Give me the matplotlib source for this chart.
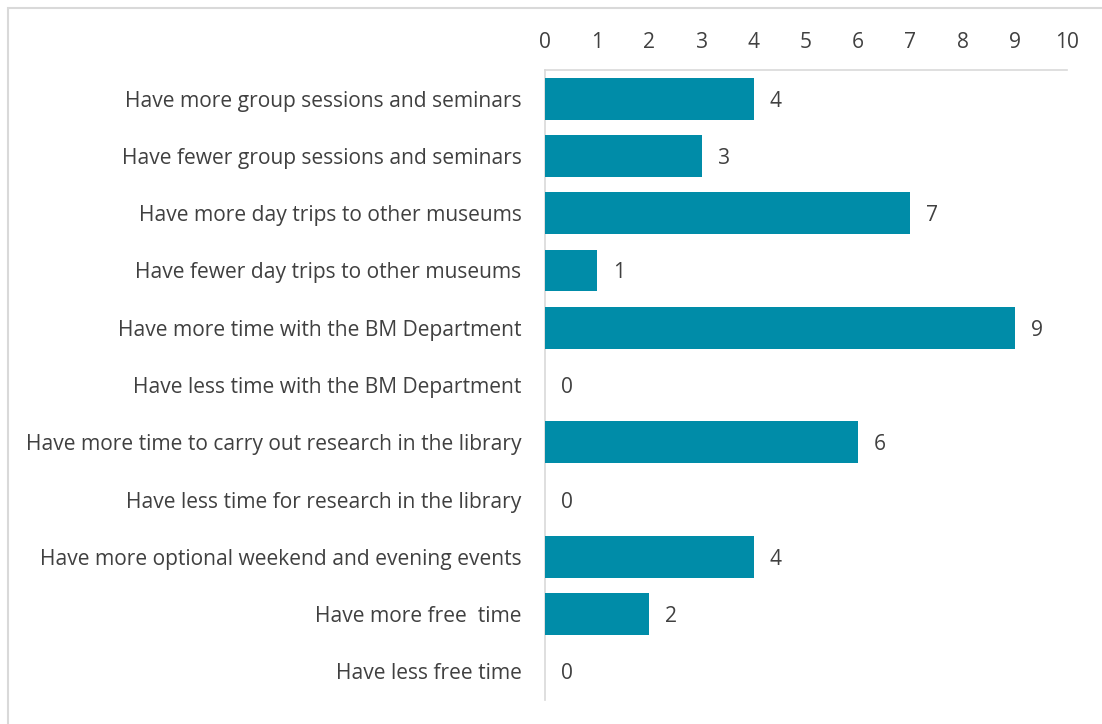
import matplotlib
matplotlib.use("Agg")
import matplotlib.pyplot as plt
from matplotlib.patches import Rectangle

categories = [
    "Have more group sessions and seminars",
    "Have fewer group sessions and seminars",
    "Have more day trips to other museums",
    "Have fewer day trips to other museums",
    "Have more time with the BM Department",
    "Have less time with the BM Department",
    "Have more time to carry out research in the library",
    "Have less time for research in the library",
    "Have more optional weekend and evening events",
    "Have more free  time",
    "Have less free time",
]
values = [4, 3, 7, 1, 9, 0, 6, 0, 4, 2, 0]
xticks = list(range(0, 11))

plt.rcParams['font.family'] = ['Open Sans', 'DejaVu Sans']
text_color = '#404040'
bar_color = '#008CA8'
fs = 15.1

fig = plt.figure(figsize=(11.02, 7.24), dpi=100)
fig.patches.append(Rectangle((8/1102, -0.01), 1.0, 1 - 8/724 + 0.01, transform=fig.transFigure,
                             fill=False, edgecolor='#d9d9d9', linewidth=1.5))
ax = fig.add_axes([545/1102, 1 - 700/724, (1067-545)/1102, (700-70)/724])

y = list(range(len(categories)))
ax.barh(y, values, height=0.73, color=bar_color, zorder=3)
ax.set_ylim(len(categories) - 0.5, -0.5)
ax.set_xlim(0, 10)
ax.set_yticks(y)
ax.set_yticklabels(categories, fontsize=fs, color=text_color)
ax.set_xticks(xticks)
ax.set_xticklabels([str(t) for t in xticks], fontsize=fs, color=text_color)
ax.xaxis.tick_top()
ax.tick_params(axis='both', length=0)
ax.tick_params(axis='x', pad=12.5)
ax.tick_params(axis='y', pad=17)
for s in ['right', 'bottom']:
    ax.spines[s].set_visible(False)
for s in ['top', 'left']:
    ax.spines[s].set_color('#d9d9d9')
    ax.spines[s].set_linewidth(1.2)

for yi, v in zip(y, values):
    ax.annotate(str(v), (v, yi), xytext=(11.5, 0), textcoords='offset points',
                va='center_baseline', ha='left', fontsize=fs, color=text_color)

fig.savefig('out.png', dpi=100)
